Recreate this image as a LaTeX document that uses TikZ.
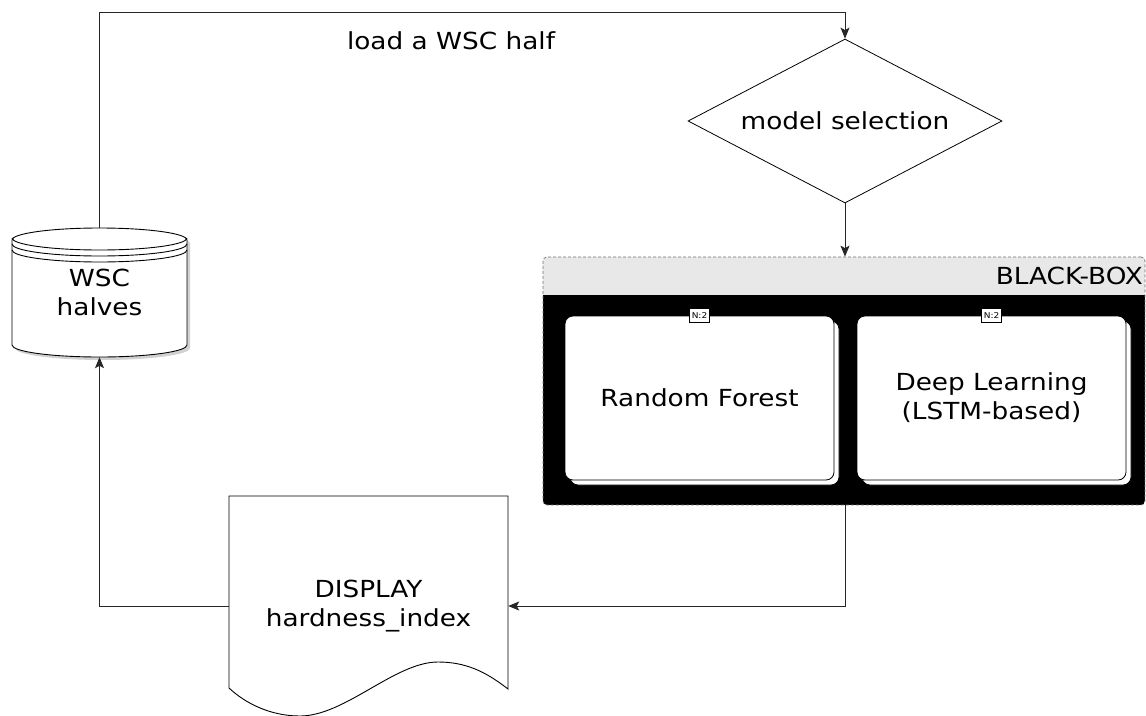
\documentclass[tikz,border=0pt]{standalone}
\usepackage{fontspec}
\setmainfont{DejaVu Sans}[FakeStretch=1.12]
\usetikzlibrary{shapes.geometric,arrows.meta}
\definecolor{hdr}{HTML}{E8E8E8}
\begin{document}
\begin{tikzpicture}[x=1pt,y=-1pt,
  conn/.style={draw=black!85, line width=0.9pt},
  arr/.style={conn, -{Stealth[length=11pt,width=9pt,inset=2.5pt]}},
  txt/.style={font=\fontsize{23.5}{29}\selectfont, align=center},
  card/.style={draw, fill=white, rounded corners=8pt, line width=0.8pt, inner sep=0pt, minimum width=269pt, minimum height=164pt},
  badge/.style={draw, fill=white, font=\fontsize{8}{9}\selectfont, inner sep=1pt, minimum width=20pt, minimum height=14pt, line width=0.6pt},
  shape line/.style={draw=black, line width=0.9pt}
]
\useasboundingbox (0,0) rectangle (1146,715);
\fill[white] (0,0) rectangle (1146,715);

% --- cylinder (WSC halves)
\begin{scope}[shift={(3,3)}]
\fill[black!18] (12,240) -- (12,345) .. controls (12,351.6) and (51.2,357) .. (99.5,357) .. controls (147.8,357) and (187,351.6) .. (187,345) -- (187,240) .. controls (187,233.4) and (147.8,228) .. (99.5,228) .. controls (51.2,228) and (12,233.4) .. (12,240) -- cycle;
\end{scope}
\path[shape line, fill=white] (12,240) -- (12,345) .. controls (12,351.6) and (51.2,357) .. (99.5,357) .. controls (147.8,357) and (187,351.6) .. (187,345) -- (187,240) .. controls (187,233.4) and (147.8,228) .. (99.5,228) .. controls (51.2,228) and (12,233.4) .. (12,240) -- cycle;
\foreach \c in {238,244,250}
  \draw[shape line] (12,\c) .. controls (12,{\c+6.6}) and (51.2,{\c+12}) .. (99.5,{\c+12}) .. controls (147.8,{\c+12}) and (187,{\c+6.6}) .. (187,\c);
\node[txt, minimum width=175pt, minimum height=129pt, inner sep=0pt] (db) at (99.5,292.5) {WSC\\halves};

% --- diamond
\node[diamond, draw, line width=0.8pt, minimum width=314pt, minimum height=164pt, inner sep=0pt,
      label={[txt]center:model selection}] (dia) at (845,121) {};

% --- black box container
\begin{scope}
\clip[rounded corners=4pt] (543,257) rectangle (1145,505);
\fill[hdr] (543,257) rectangle (1145,295);
\fill[black] (543,295) rectangle (1145,505);
\end{scope}
\node[draw=black!55, dash pattern=on 3pt off 2pt, rounded corners=4pt, line width=0.7pt,
      minimum width=602pt, minimum height=248pt, inner sep=0pt] (bb) at (844,381) {};
\node[txt, anchor=east, inner sep=0pt] (bbl) at (1143,276) {BLACK-BOX};

% --- cards
\node[card] (rfs) at (704.5,403) {};
\node[card, txt] (rf) at (699.5,398) {Random Forest};
\node[badge] (rfb) at (rf.north) {N:2};
\node[card] (dls) at (996.5,403) {};
\node[card, txt] (dl) at (991.5,398) {Deep Learning\\(LSTM-based)};
\node[badge] (dlb) at (dl.north) {N:2};

% --- document
\path[shape line, fill=white] (229,496) -- (508,496) -- (508,689) .. controls (485,671) and (465,662) .. (438,662) .. controls (395,662) and (345,716) .. (300,716) .. controls (270,716) and (245,703) .. (229,688) -- cycle;
\node[txt, minimum width=279pt, minimum height=220pt, inner sep=0pt] (doc) at (368.5,606) {DISPLAY\\hardness\_index};

% --- connectors
\coordinate (tl) at (99.5,12);
\draw[arr] (db.north) -- (tl) -| (dia.north);
\node[txt, inner sep=0pt] (lbl) at (451,41) {load a WSC half};
\draw[arr] (dia.south) -- (dia.south |- bb.north);
\draw[arr] (dia.south |- bb.south) |- (doc.east);
\draw[arr] (doc.west) -| (db.south);
\end{tikzpicture}
\end{document}
